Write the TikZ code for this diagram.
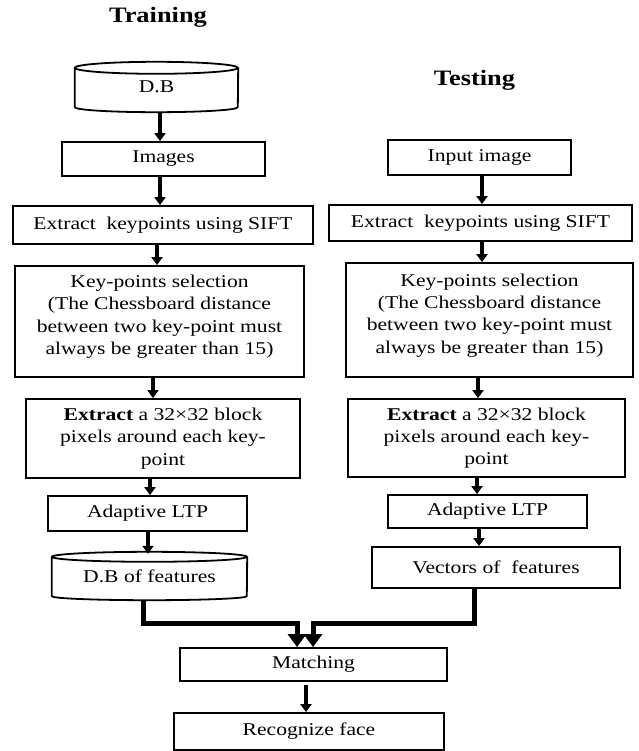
\documentclass[tikz,border=0pt]{standalone}
\usepackage{fontspec}
\setmainfont{Liberation Serif}[FakeStretch=1.2]
\usetikzlibrary{arrows.meta,calc}
\begin{document}
\begin{tikzpicture}[x=1pt,y=1pt,
  box/.style={draw,line width=1.8pt,align=center,inner sep=0pt,
    font=\fontsize{18}{22.3}\selectfont},
  plain/.style={align=center,inner sep=0pt,font=\fontsize{18}{22.3}\selectfont},
  cylline/.style={draw,line width=1.8pt},
  ttl/.style={font=\fontsize{22}{26}\selectfont\bfseries,inner sep=0pt},
  arr/.style={line width=4pt,-{Triangle[width=11pt,length=8pt]}},
  bigarr/.style={line width=5pt,line join=miter,-{Triangle[width=18pt,length=13pt]}}]
\useasboundingbox (0,0) rectangle (638,-751);
% titles
\node[ttl] (ttrain) at (158,-17) {Training};
\node[ttl] (ttest) at (474.5,-80) {Testing};
% left column
\node[plain,minimum width=163,minimum height=50] (db1) at (156.5,-87) {\raisebox{-3pt}{D.B}};
\draw[cylline] ([yshift=-6]db1.north west) arc[start angle=180,end angle=360,x radius=81.5,y radius=6]
  arc[start angle=0,end angle=180,x radius=81.5,y radius=6]
  -- ([yshift=5]db1.south west) arc[start angle=180,end angle=360,x radius=81.5,y radius=5]
  -- ([yshift=-6]db1.north east);
\node[box,minimum width=203,minimum height=34] (img) at (163.5,-159) {Images};
\node[box,minimum width=300,minimum height=38] (sift1) at (163,-225) {Extract\ \ keypoints using SIFT};
\node[box,minimum width=289,minimum height=111] (kp1) at (159.5,-321.5) {Key-points selection\\(The Chessboard distance\\between two key-point must\\always be greater than 15)\\[-9pt]\mbox{}};
\node[box,minimum width=274,minimum height=79] (ex1) at (163,-438.5) {\textbf{Extract} a 32×32 block\\pixels around each key-\\point};
\node[box,minimum width=199,minimum height=35] (ltp1) at (147.5,-513.5) {Adaptive LTP};
\node[plain,minimum width=195,minimum height=48] (db2) at (149.5,-576) {\raisebox{-3pt}{D.B of features}};
\draw[cylline] ([yshift=-5]db2.north west) arc[start angle=180,end angle=360,x radius=97.5,y radius=5]
  arc[start angle=0,end angle=180,x radius=97.5,y radius=5]
  -- ([yshift=4]db2.south west) arc[start angle=180,end angle=360,x radius=97.5,y radius=4]
  -- ([yshift=-5]db2.north east);
% right column
\node[box,minimum width=183,minimum height=35] (inp) at (479.5,-157.5) {Input image};
\node[box,minimum width=303,minimum height=36] (sift2) at (480.5,-223) {Extract\ \ keypoints using SIFT};
\node[box,minimum width=287,minimum height=114] (kp2) at (489.5,-320) {Key-points selection\\(The Chessboard distance\\between two key-point must\\always be greater than 15)\\[-9pt]\mbox{}};
\node[box,minimum width=277,minimum height=78] (ex2) at (486.5,-438) {\textbf{Extract} a 32×32 block\\pixels around each key-\\point};
\node[box,minimum width=199,minimum height=33] (ltp2) at (487.5,-511.5) {Adaptive LTP};
\node[box,minimum width=248,minimum height=41] (vec) at (496,-567.5) {Vectors of\ \ features};
% bottom
\node[box,minimum width=267,minimum height=33] (match) at (313.5,-664.5) {Matching};
\node[box,minimum width=270,minimum height=37] (rec) at (309,-731.5) {Recognize face};
% small arrows left
\draw[arr] (db1.south -| 160,0) -- (img.north -| 160,0);
\draw[arr] (img.south -| 160,0) -- (sift1.north -| 160,0);
\draw[arr] (sift1.south -| 157,0) -- (kp1.north -| 157,0);
\draw[arr] (kp1.south -| 153,0) -- (ex1.north -| 153,0);
\draw[arr] (ex1.south -| 150,0) -- (ltp1.north -| 150,0);
\draw[arr] (ltp1.south -| 148,0) -- ([yshift=-2]db2.north -| 148,0);
% small arrows right
\draw[arr] (inp.south -| 482,0) -- (sift2.north -| 482,0);
\draw[arr] (sift2.south -| 482,0) -- (kp2.north -| 482,0);
\draw[arr] (kp2.south -| 478,0) -- (ex2.north -| 478,0);
\draw[arr] (ex2.south -| 477,0) -- (ltp2.north -| 477,0);
\draw[arr] (ltp2.south -| 479,0) -- (vec.north -| 479,0);
% big arrows
\coordinate (jl) at (143,-623);
\coordinate (jr) at (474,-623);
\draw[bigarr] (db2.south -| jl) -- (jl) -- (297,-623) -- (match.north -| 297,0);
\draw[bigarr] (vec.south -| jr) -- (jr) -- (313,-623) -- (match.north -| 313,0);
\draw[arr] ([yshift=-3]match.south -| 306,0) -- (rec.north -| 306,0);
\end{tikzpicture}
\end{document}
